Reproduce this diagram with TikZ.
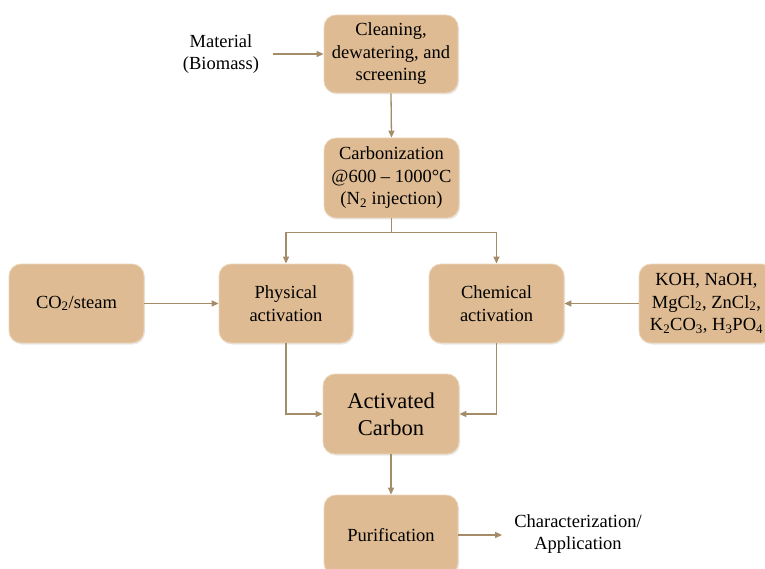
\documentclass[tikz,border=0pt]{standalone}
\usepackage{fontspec}
\setmainfont{Liberation Serif}
\usetikzlibrary{arrows.meta,shadows}
\definecolor{boxfill}{RGB}{222,187,146}
\definecolor{boxedge}{RGB}{236,214,188}
\definecolor{linec}{RGB}{165,140,104}
\tikzset{
  procbox/.style={rectangle, rounded corners=12pt, fill=boxfill, draw=boxedge, line width=0.8pt,
    minimum width=#1, align=center, inner sep=2pt,
    drop shadow={opacity=0.18, shadow xshift=1pt, shadow yshift=-1.5pt},
    font=\fontsize{18.5}{22.5}\selectfont},
  procbox/.default=134pt,
  plain/.style={align=center, inner sep=0pt, font=\fontsize{18.5}{22.5}\selectfont},
  arr/.style={draw=linec, line width=1.3pt, -{Triangle[length=7pt,width=6pt]}},
}
\begin{document}
\begin{tikzpicture}[x=1pt,y=-1pt]
\useasboundingbox (0,0) rectangle (765,569);
\begin{scope}
\clip (0,0) rectangle (765,569);
\node[procbox=134pt, minimum height=78pt] (clean) at (391,54) {Cleaning,\\dewatering, and\\screening};
\node[procbox=135pt, minimum height=80pt] (carb) at (391.5,178) {Carbonization\\@600 – 1000°C\\(N\textsubscript{2} injection)};
\node[procbox=135pt, minimum height=79pt] (co2) at (76.5,303.5) {CO\textsubscript{2}/steam};
\node[procbox=134pt, minimum height=79pt] (phys) at (286,303.5) {Physical\\activation};
\node[procbox=135pt, minimum height=79pt] (chem) at (496.5,303.5) {Chemical\\activation};
\node[procbox=135pt, minimum height=79pt] (koh) at (706.5,303.5) {KOH, NaOH,\\MgCl\textsubscript{2}, ZnCl\textsubscript{2},\\K\textsubscript{2}CO\textsubscript{3}, H\textsubscript{3}PO\textsubscript{4}};
\node[procbox=136pt, minimum height=80pt, font=\fontsize{22.5}{27}\selectfont] (act) at (391,414) {Activated\\Carbon};
\node[procbox=134pt, minimum height=80pt] (pur) at (391,535) {Purification};
\node[plain] (mat) at (221,54) {Material\\(Biomass)};
\node[plain] (char) at (578,534) {Characterization/\\Application};

\draw[arr] ([xshift=14pt]mat.east) -- (clean.west);
\draw[arr] (clean.south) -- (carb.north);
\draw[arr] (carb.south) -- ++(0,14) -| (phys.north);
\draw[arr] (carb.south) -- ++(0,14) -| (chem.north);
\draw[arr] (co2.east) -- (phys.west);
\draw[arr] (koh.west) -- (chem.east);
\draw[arr] (phys.south) |- (act.west);
\draw[arr] (chem.south) |- (act.east);
\draw[arr] (act.south) -- (pur.north);
\draw[arr] (pur.east) -- ([xshift=-12pt]char.west |- pur.east);
\end{scope}
\end{tikzpicture}
\end{document}
